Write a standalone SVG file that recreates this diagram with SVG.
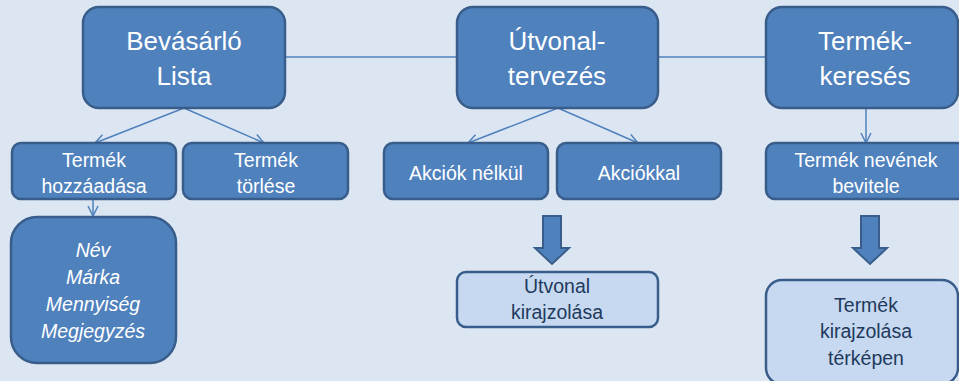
<svg xmlns="http://www.w3.org/2000/svg" width="959" height="381" viewBox="0 0 959 381">
<defs>
<style>
.n{fill:#4F81BD;stroke:#385D8A;stroke-width:2.5}
.l{fill:#C6D9F1;stroke:#385D8A;stroke-width:2.5}
.t{font-family:"Liberation Sans",Arial,sans-serif;fill:#FFFFFF;text-anchor:middle}
.big{font-size:26px}
.mid{font-size:19.5px}
.it{font-style:italic;font-size:19.5px}
.dk{fill:#1F3A5C;font-size:19.5px}
.c{fill:none;stroke:#4F81BD;stroke-width:1.5}
.blk{fill:#4F81BD;stroke:#385D8A;stroke-width:2}
</style>
<marker id="ah" viewBox="0 0 12 12" refX="11" refY="6" markerWidth="12" markerHeight="12" markerUnits="userSpaceOnUse" orient="auto">
<path d="M1,1 L11,6 L1,11" fill="none" stroke="#4F81BD" stroke-width="1.5"/>
</marker>
</defs>
<rect width="959" height="381" fill="#DCE6F2"/>
<g id="connectors">
<line class="c" x1="285" y1="57" x2="766" y2="57"/>
<line class="c" x1="184" y1="108" x2="95" y2="143" marker-end="url(#ah)"/>
<line class="c" x1="184" y1="108" x2="264" y2="143" marker-end="url(#ah)"/>
<line class="c" x1="558" y1="108" x2="468" y2="143" marker-end="url(#ah)"/>
<line class="c" x1="558" y1="108" x2="638" y2="143" marker-end="url(#ah)"/>
<line class="c" x1="866" y1="108" x2="866" y2="143" marker-end="url(#ah)"/>
<line class="c" x1="93" y1="199" x2="93" y2="216" marker-end="url(#ah)"/>
<path class="blk" d="M543,216 L561,216 L561,248 L569,248 L552,264 L535,248 L543,248 Z"/>
<path class="blk" d="M861,216 L879,216 L879,248 L887,248 L870,264 L853,248 L861,248 Z"/>
</g>
<g id="bevasarlo">
<rect class="n" x="83" y="7" width="202" height="101" rx="16"/>
<text class="t big" x="184" y="50">Bevásárló</text>
<text class="t big" x="184" y="85">Lista</text>
</g>
<g id="utvonal">
<rect class="n" x="457" y="7" width="201" height="101" rx="16"/>
<text class="t big" x="557" y="50">Útvonal-</text>
<text class="t big" x="557" y="85">tervezés</text>
</g>
<g id="termekkereses">
<rect class="n" x="766" y="7" width="192" height="101" rx="16"/>
<text class="t big" x="865" y="50">Termék-</text>
<text class="t big" x="865" y="85">keresés</text>
</g>
<g id="hozzaadas">
<rect class="n" x="12" y="143" width="164" height="56" rx="9"/>
<text class="t mid" x="94" y="167">Termék</text>
<text class="t mid" x="94" y="193">hozzáadása</text>
</g>
<g id="torles">
<rect class="n" x="183" y="143" width="165" height="56" rx="9"/>
<text class="t mid" x="266" y="167">Termék</text>
<text class="t mid" x="266" y="193">törlése</text>
</g>
<g id="akcioknelkul">
<rect class="n" x="384" y="143" width="164" height="56" rx="9"/>
<text class="t mid" x="466" y="180">Akciók nélkül</text>
</g>
<g id="akciokkal">
<rect class="n" x="557" y="143" width="164" height="56" rx="9"/>
<text class="t mid" x="639" y="180">Akciókkal</text>
</g>
<g id="nevbevitel">
<rect class="n" x="766" y="143" width="200" height="56" rx="9"/>
<text class="t mid" x="866" y="167">Termék nevének</text>
<text class="t mid" x="866" y="193">bevitele</text>
</g>
<g id="adatok">
<rect class="n" x="11" y="217" width="165" height="146" rx="26"/>
<text class="t it" x="93" y="257">Név</text>
<text class="t it" x="93" y="284">Márka</text>
<text class="t it" x="93" y="311">Mennyiség</text>
<text class="t it" x="93" y="338">Megjegyzés</text>
</g>
<g id="utvonalrajz">
<rect class="l" x="457" y="272" width="201" height="55" rx="9"/>
<text class="t dk" x="557" y="293">Útvonal</text>
<text class="t dk" x="557" y="319">kirajzolása</text>
</g>
<g id="termekrajz">
<rect class="l" x="766" y="280" width="192" height="104" rx="16"/>
<text class="t dk" x="866" y="312">Termék</text>
<text class="t dk" x="866" y="338">kirajzolása</text>
<text class="t dk" x="866" y="365">térképen</text>
</g>
</svg>
